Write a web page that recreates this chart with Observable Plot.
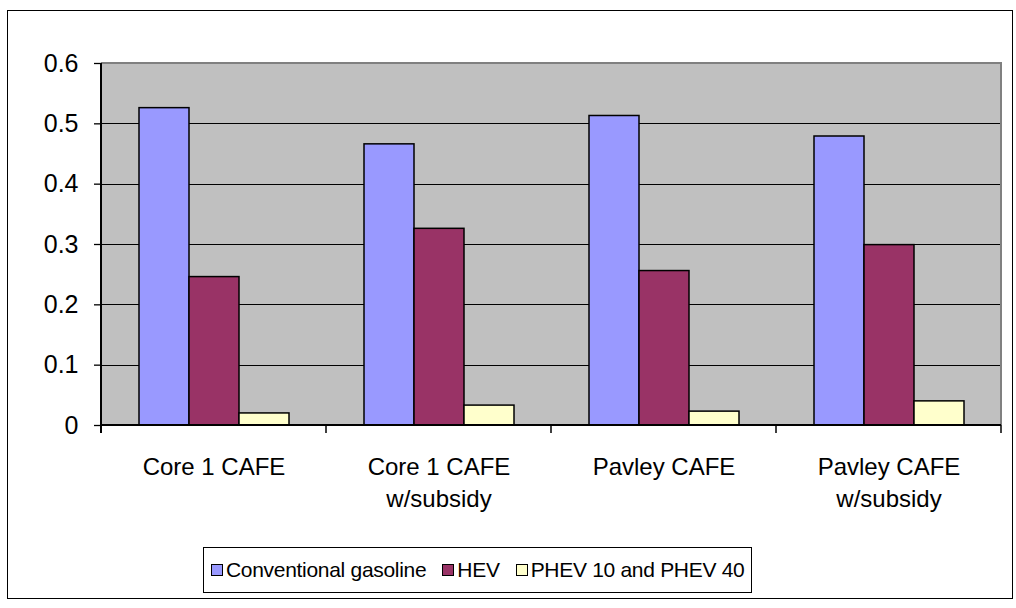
<!DOCTYPE html>
<html>
<head>
<meta charset="utf-8">
<script src="https://cdn.jsdelivr.net/npm/d3@7"></script>
<script src="https://cdn.jsdelivr.net/npm/@observablehq/plot@0.6"></script>
<style>
  html, body { margin: 0; padding: 0; background: #fff; }
  #wrap { position: relative; width: 1016px; height: 608px; overflow: hidden;
          font-family: "Liberation Sans", Arial, sans-serif; }
  #wrap svg { position: absolute; left: 0; top: 0; }
  #outer { position: absolute; left: 7px; top: 10px; width: 1006px; height: 589px;
           border: 1px solid #000; box-sizing: border-box; pointer-events: none; }
  #legend { position: absolute; left: 203px; top: 547px; height: 46px; padding: 0 7px;
            box-sizing: border-box; border: 1.5px solid #000; background: #fff;
            display: flex; align-items: center; gap: 16px;
            font-size: 21px; letter-spacing: -0.3px; color: #000; }
  #legend .item { display: flex; align-items: center; gap: 3px; white-space: nowrap; }
  #legend .sw { width: 10px; height: 10px; border: 1.5px solid #000; }
</style>
</head>
<body>
<div id="wrap"><div id="outer"></div></div>
<script>
// Scenario groups along the x axis
const categories = ["Core 1 CAFE", "Core 1 CAFE\nw/subsidy", "Pavley CAFE", "Pavley CAFE\nw/subsidy"];
// Vehicle types (one bar each per scenario)
const series = ["Conventional gasoline", "HEV", "PHEV 10 and PHEV 40"];
const colors = ["#9999FF", "#993366", "#FFFFCC"];
// Share of sales per vehicle type, one value per scenario
const conventional = [0.526, 0.466, 0.513, 0.479];
const hev = [0.246, 0.326, 0.256, 0.299];
const phev = [0.020, 0.033, 0.023, 0.040];
// Value axis ticks
const yTicks = [0, 0.1, 0.2, 0.3, 0.4, 0.5, 0.6];

const valuesBySeries = [conventional, hev, phev];
const rows = [];
categories.forEach((c, i) => series.forEach((s, j) => rows.push({category: c, series: s, value: valuesBySeries[j][i]})));

const font = "'Liberation Sans', Arial, sans-serif";

const chart = Plot.plot({
  width: 1016,
  height: 540,
  marginLeft: 99,
  marginRight: 14,
  marginTop: 63,
  marginBottom: 115,
  style: {fontFamily: font, fontSize: "24px", color: "#000", background: "transparent", overflow: "visible"},
  fx: {domain: categories, padding: 0, label: null, axis: null},
  x: {domain: series, paddingInner: 0, paddingOuter: 0.75, axis: null},
  y: {domain: [0, 0.6], label: null, axis: null},
  color: {domain: series, range: colors},
  marks: [
    Plot.ruleY(yTicks.filter(v => v > 0 && v < 0.6), {stroke: "#000", strokeWidth: 1.3, shapeRendering: "crispEdges"}),
    Plot.barY(rows, {fx: "category", x: "series", y: "value", fill: "series", stroke: "#000", strokeWidth: 1.5}),
    Plot.axisY({ticks: yTicks, tickSize: 7, tickPadding: 16, stroke: "#000", strokeWidth: 1.3,
                tickFormat: d => d === 0 ? "0" : d3.format(".1f")(d), fontSize: 25, label: null}),
    Plot.axisFx({anchor: "bottom", tickSize: 0, tickPadding: 27, lineHeight: 1.32, fontSize: 24, label: null})
  ]
});

const wrap = document.getElementById("wrap");
wrap.insertBefore(chart, wrap.firstChild);

// Excel-style plot area: grey fill, grey top/right border, black axes and category boundary ticks,
// all placed with the plot's own scales
const fx = chart.scale("fx");
const y = chart.scale("y");
const left = fx.apply(categories[0]);
const right = fx.apply(categories[categories.length - 1]) + fx.bandwidth;
const y0 = y.apply(0), yTop = y.apply(0.6);
const svg = d3.select(chart);
svg.insert("rect", ":first-child")
  .attr("x", left).attr("y", yTop).attr("width", right - left).attr("height", y0 - yTop)
  .attr("fill", "#C0C0C0");
const g = svg.append("g");
g.append("path").attr("d", `M${left},${yTop}H${right}V${y0}`)
  .attr("fill", "none").attr("stroke", "#808080").attr("stroke-width", 2);
g.append("line").attr("x1", left).attr("x2", right).attr("y1", y0).attr("y2", y0)
  .attr("stroke", "#000").attr("stroke-width", 2);
g.append("line").attr("x1", left).attr("x2", left).attr("y1", yTop).attr("y2", y0 + 8)
  .attr("stroke", "#000").attr("stroke-width", 2);
const bounds = categories.map(c => fx.apply(c)).concat([right]);
g.selectAll("line.b").data(bounds).join("line").attr("class", "b")
  .attr("x1", d => d).attr("x2", d => d).attr("y1", y0).attr("y2", y0 + 8)
  .attr("stroke", "#000").attr("stroke-width", 1.5);

// Legend below the plot
const legend = document.createElement("div");
legend.id = "legend";
series.forEach((s, i) => {
  const item = document.createElement("div");
  item.className = "item";
  const sw = document.createElement("div");
  sw.className = "sw";
  sw.style.background = colors[i];
  const t = document.createElement("span");
  t.textContent = s;
  item.append(sw, t);
  legend.append(item);
});
wrap.append(legend);
</script>
</body>
</html>
